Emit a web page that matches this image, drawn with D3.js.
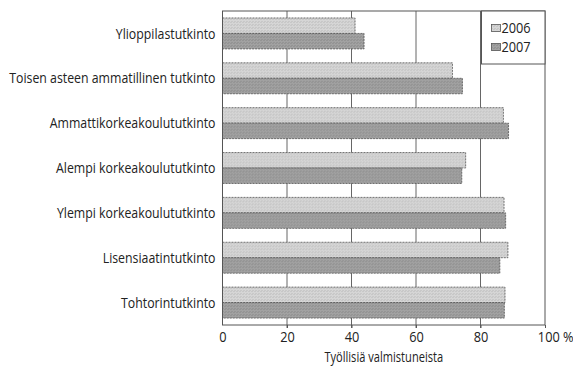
<!DOCTYPE html>
<html>
<head>
<meta charset="utf-8">
<script src="https://cdn.jsdelivr.net/npm/d3@7"></script>
<style>
  body { margin: 0; background: #fff; }
  svg text { font-family: "Open Sans", sans-serif; fill: #222; }
</style>
</head>
<body>
<svg id="chart" width="573" height="367"></svg>
<script>
var categories = [
  "Ylioppilastutkinto",
  "Toisen asteen ammatillinen tutkinto",
  "Ammattikorkeakoulututkinto",
  "Alempi korkeakoulututkinto",
  "Ylempi korkeakoulututkinto",
  "Lisensiaatintutkinto",
  "Tohtorintutkinto"
];
var years = ["2006", "2007"];
var values2006 = [41.1, 71.3, 87.1, 75.4, 87.3, 88.5, 87.6];
var values2007 = [43.9, 74.4, 88.7, 74.2, 87.8, 86.0, 87.4];
var xTicks = [0, 20, 40, 60, 80, 100];
var axisTitle = "Työllisiä valmistuneista";

var svg = d3.select("#chart");
var margin = {left: 222.5, right: 28, top: 11, bottom: 42};
var width = 573 - margin.left - margin.right,
    height = 367 - margin.top - margin.bottom;
var squeeze = 0.85; // narrow letterforms like the original

// texture patterns
var defs = svg.append("defs");
var fills = [{id: "p2006", base: "#d6d6d6", dot: "#b8b8b8"},
             {id: "p2007", base: "#a2a2a2", dot: "#858585"}];
fills.forEach(function(f) {
  var p = defs.append("pattern").attr("id", f.id)
    .attr("width", 3).attr("height", 3).attr("patternUnits", "userSpaceOnUse");
  p.append("rect").attr("width", 3).attr("height", 3).attr("fill", f.base);
  p.append("rect").attr("x", 0).attr("y", 0).attr("width", 1).attr("height", 1).attr("fill", f.dot);
  p.append("rect").attr("x", 2).attr("y", 1).attr("width", 1).attr("height", 1).attr("fill", f.dot);
});

var g = svg.append("g").attr("transform", "translate(" + margin.left + "," + margin.top + ")");

var x = d3.scaleLinear().domain([0, 100]).range([0, width]);
var y = d3.scaleBand().domain(categories).range([0, height]).paddingInner(0.31).paddingOuter(0.155);
var ySub = d3.scaleBand().domain(years).range([0, y.bandwidth()]);

// gridlines
g.selectAll(".grid").data(xTicks.slice(1, -1)).enter().append("line")
  .attr("x1", d => x(d)).attr("x2", d => x(d))
  .attr("y1", 0).attr("y2", height + 3)
  .attr("stroke", "#666").attr("stroke-width", 1);

// bars
var rows = categories.map(function(c, i) {
  return {cat: c, vals: [values2006[i], values2007[i]]};
});
var grp = g.selectAll(".row").data(rows).enter().append("g")
  .attr("transform", d => "translate(0," + y(d.cat) + ")");
grp.selectAll("rect").data(d => d.vals.map((v, j) => ({year: years[j], v: v})))
  .enter().append("rect")
  .attr("x", 0).attr("y", d => ySub(d.year))
  .attr("width", d => x(d.v)).attr("height", ySub.bandwidth())
  .attr("fill", d => "url(#p" + d.year + ")")
  .attr("stroke", "#555").attr("stroke-width", 0.8).attr("stroke-dasharray", "2,1");

// frame
g.append("rect").attr("x", 0).attr("y", 0).attr("width", width).attr("height", height)
  .attr("fill", "none").attr("stroke", "#555").attr("stroke-width", 1);

// x axis
var xAxis = g.append("g").attr("transform", "translate(0," + height + ")")
  .call(d3.axisBottom(x).tickValues(xTicks).tickSize(3).tickPadding(3)
    .tickFormat(d => d === 100 ? "100 %" : d));
xAxis.select(".domain").remove();
xAxis.selectAll("line").attr("stroke", "#555");
xAxis.selectAll("text").style("font-size", "15px").attr("fill", "#222")
  .attr("transform", "scale(" + squeeze + ",1)");
xAxis.selectAll(".tick").filter(d => d === 100).select("text")
  .attr("text-anchor", "start").attr("dx", "-9");
xAxis.selectAll(".tick").filter(d => d === 0).select("line").remove();

g.append("text")
  .attr("transform", "translate(" + (width / 2) + "," + (height + 37) + ") scale(0.74,1)")
  .attr("text-anchor", "middle").style("font-size", "15px").text(axisTitle);

// category labels
g.selectAll(".cat").data(categories).enter().append("text")
  .attr("transform", d => "translate(-7," + (y(d) + y.bandwidth() / 2) + ") scale(" + squeeze + ",1)")
  .attr("dy", "0.35em").attr("text-anchor", "end")
  .style("font-size", "14.5px").text(d => d);

// legend
var lg = g.append("g").attr("transform", "translate(" + (x(80) + 1) + ",0)");
lg.append("rect").attr("width", width - x(80) - 1).attr("height", 53)
  .attr("fill", "#fff").attr("stroke", "#555");
years.forEach(function(yr, i) {
  var row = lg.append("g").attr("transform", "translate(10," + (17 + i * 19) + ")");
  row.append("rect").attr("x", 0).attr("y", -3.5).attr("width", 9).attr("height", 7)
    .attr("fill", "url(#p" + yr + ")").attr("stroke", "#555").attr("stroke-width", 0.8);
  row.append("text").attr("transform", "translate(10,0) scale(" + squeeze + ",1)")
    .attr("dy", "0.35em").style("font-size", "15px").text(yr);
});
</script>
</body>
</html>
